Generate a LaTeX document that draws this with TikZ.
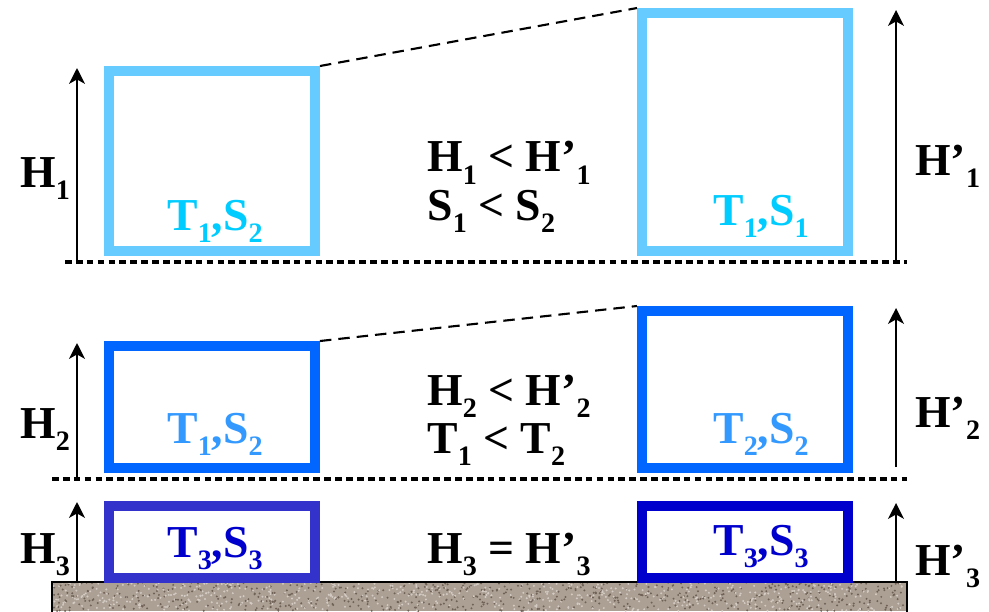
\documentclass[tikz,border=0pt]{standalone}
\usepackage{fontspec}
\setmainfont{Liberation Serif}
\usetikzlibrary{arrows.meta}

\definecolor{paleline}{RGB}{102,204,255}
\definecolor{paletext}{RGB}{0,204,255}
\definecolor{midline}{RGB}{0,102,255}
\definecolor{midtext}{RGB}{51,153,255}
\definecolor{deepline}{RGB}{51,51,204}
\definecolor{deeptext}{RGB}{0,0,204}
\definecolor{soil}{RGB}{172,160,148}
\definecolor{soildark}{RGB}{112,98,86}
\definecolor{soillight}{RGB}{212,204,196}

\newcommand{\lo}[1]{\raisebox{-7pt}{\fontsize{16}{16}\selectfont #1}}

\begin{document}
\begin{tikzpicture}[x=0.02cm,y=-0.02cm,
  lbl/.style={anchor=base west,inner sep=0pt,font=\fontsize{26}{30}\selectfont\bfseries},
  cell/.style={draw,line width=5.7pt,inner sep=0pt,minimum width=4.12cm},
  level/.style={line width=2.6pt,dash pattern=on 3.8pt off 2.4pt},
  link/.style={line width=1.2pt,dash pattern=on 6.5pt off 4pt},
  rise/.style={line width=1.3pt,-{Stealth[length=9pt,width=9pt,inset=2.5pt]}}]
\useasboundingbox (0,0) rectangle (989,611);
% ground
\fill[soil] (52,582) rectangle (907,611);
\begin{scope}
\clip (52,582) rectangle (907,611);
\pgfmathsetseed{11}
\foreach \i in {1,...,650} {
  \fill[soildark] ({52+855*rnd},{582+29*rnd}) circle (1.1);
  \fill[soillight] ({52+855*rnd},{582+29*rnd}) circle (1.1);
}
\end{scope}
\draw[line width=1.3pt] (52,612) -- (52,582) -- (907,582) -- (907,612);
% level lines
\draw[level] (65,262) -- (907,262);
\draw[level] (52,479) -- (907,479);
% boxes
\node[cell,paleline,minimum height=3.6cm] (boxA) at (212,161) {};
\node[cell,paleline,minimum height=4.76cm] (boxB) at (745,132) {};
\node[cell,midline,minimum height=2.44cm] (boxC) at (212,407) {};
\node[cell,midline,minimum height=3.14cm] (boxD) at (745,389.5) {};
\node[cell,deepline,minimum height=1.44cm] (boxE) at (212,542) {};
\node[cell,deeptext,minimum height=1.44cm] (boxF) at (745,542) {};
\draw[link] (boxA.north east) -- (boxB.north west);
\draw[link] (boxC.north east) -- (boxD.north west);
% heights
\coordinate (a1) at (77,262); \coordinate (a1t) at (77,68);
\coordinate (b1) at (896,262); \coordinate (b1t) at (896,10);
\coordinate (a2) at (77,479); \coordinate (a2t) at (77,343);
\coordinate (b2) at (896,467); \coordinate (b2t) at (896,308);
\coordinate (a3) at (77,582); \coordinate (a3t) at (77,502);
\coordinate (b3) at (896,582); \coordinate (b3t) at (896,503);
\draw[rise] (a1) -- (a1t);
\draw[rise] (b1) -- (b1t);
\draw[rise] (a2) -- (a2t);
\draw[rise] (b2) -- (b2t);
\draw[rise] (a3) -- (a3t);
\draw[rise] (b3) -- (b3t);
\node[lbl] (h1) at (20,187) {H\lo{1}};
\node[lbl] (h2) at (20,438) {H\lo{2}};
\node[lbl] (h3) at (20,563) {H\lo{3}};
\node[lbl] (k1) at (915,175) {H’\lo{1}};
\node[lbl] (k2) at (915,427) {H’\lo{2}};
\node[lbl] (k3) at (915,575) {H’\lo{3}};
% relations
\node[lbl] (r1) at (427,172) {H\lo{1} < H’\lo{1}};
\node[lbl] (r2) at (427,220) {S\lo{1} < S\lo{2}};
\node[lbl] (r3) at (427,405) {H\lo{2} < H’\lo{2}};
\node[lbl] (r4) at (427,453) {T\lo{1} < T\lo{2}};
\node[lbl] (r5) at (427,563) {H\lo{3} = H’\lo{3}};
% box labels
\node[lbl,paletext] (tA) at (167,230) {T\lo{1},S\lo{2}};
\node[lbl,paletext] (tB) at (713,225) {T\lo{1},S\lo{1}};
\node[lbl,midtext] (tC) at (167,443) {T\lo{1},S\lo{2}};
\node[lbl,midtext] (tD) at (713,443) {T\lo{2},S\lo{2}};
\node[lbl,deeptext] (tE) at (167,557) {T\lo{3},S\lo{3}};
\node[lbl,deeptext] (tF) at (713,555) {T\lo{3},S\lo{3}};
\end{tikzpicture}
\end{document}
